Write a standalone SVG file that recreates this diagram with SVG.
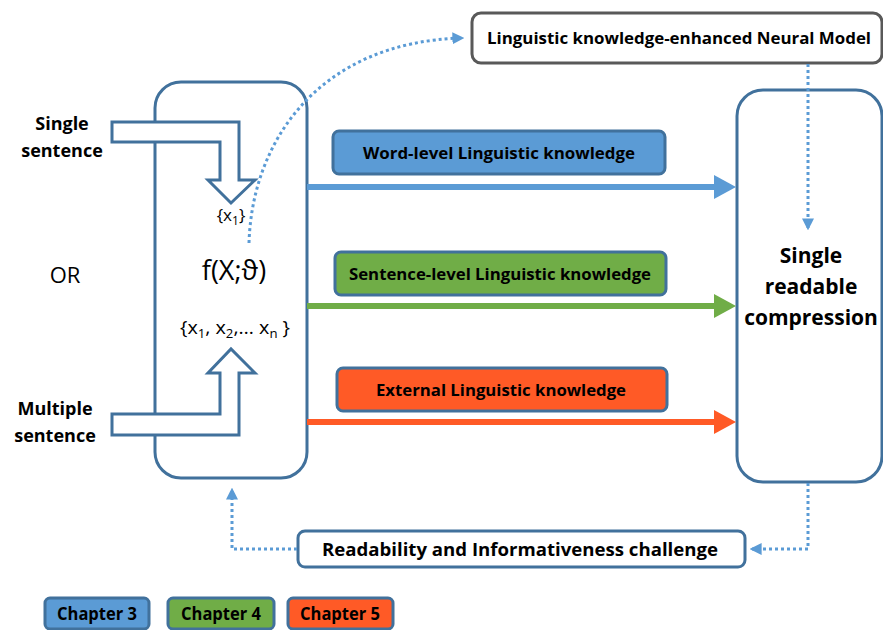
<svg xmlns="http://www.w3.org/2000/svg" width="883" height="630" viewBox="0 0 883 630">
  <style>
    .frame { fill: #ffffff; stroke: #41719C; stroke-width: 3; }
    .gray { fill: #ffffff; stroke: #595959; stroke-width: 3; }
    .hollow { fill: #ffffff; stroke: #41719C; stroke-width: 3; stroke-linejoin: miter; }
    .dots { fill: none; stroke: #5B9BD5; stroke-width: 3; stroke-dasharray: 3 3; }
    .b { font-family: "Open Sans", "Liberation Sans", sans-serif; font-weight: bold; fill: #000000; }
    .r { font-family: "Open Sans", "Liberation Sans", sans-serif; fill: #000000; }
    .blue { fill: #5B9BD5; }
    .green { fill: #70AD47; }
    .orange { fill: #FF5A26; }
  </style>
  <defs>
    <marker id="dotHead" viewBox="0 0 10 10" refX="8" refY="5" markerWidth="4" markerHeight="4" orient="auto" markerUnits="strokeWidth">
      <path d="M0,0 L10,5 L0,10 Z" fill="#5B9BD5"/>
    </marker>
  </defs>

  <!-- input sentences -->
  <g id="single-sentence">
    <text class="b" font-size="18" text-anchor="middle" x="62" y="130">Single</text>
    <text class="b" font-size="18" text-anchor="middle" x="62" y="157">sentence</text>
  </g>
  <g id="or-label">
    <text class="r" font-size="22" text-anchor="middle" x="65" y="283">OR</text>
  </g>
  <g id="multiple-sentence">
    <text class="b" font-size="18" text-anchor="middle" x="55" y="415">Multiple</text>
    <text class="b" font-size="18" text-anchor="middle" x="55" y="442">sentence</text>
  </g>

  <!-- model box -->
  <g id="model">
    <rect class="frame" x="155" y="82" width="152" height="396" rx="26"/>
    <text class="r" font-size="17" text-anchor="middle" x="231" y="221">{x<tspan font-size="12" dy="4">1</tspan><tspan dy="-4">}</tspan></text>
    <text class="r" font-size="27" text-anchor="middle" x="234" y="280">f(X;ϑ)</text>
    <text class="r" font-size="18" text-anchor="middle" x="235" y="334" textLength="110" lengthAdjust="spacingAndGlyphs">{x<tspan font-size="12" dy="4">1</tspan><tspan dy="-4">, x</tspan><tspan font-size="12" dy="4">2</tspan><tspan dy="-4">,… x</tspan><tspan font-size="12" dy="4">n</tspan><tspan dy="-4"> }</tspan></text>
  </g>

  <!-- hollow input arrows -->
  <g id="single-input-arrow">
    <polygon class="hollow" points="112,122 239,122 239,180 255,180 231,203 208,180 220,180 220,142 112,142"/>
  </g>
  <g id="multiple-input-arrow">
    <polygon class="hollow" points="112,414 220,414 220,373 208,373 231,349 255,373 239,373 239,435 112,435"/>
  </g>

  <!-- output box -->
  <g id="compression">
    <rect class="frame" x="737" y="90" width="145" height="392" rx="26"/>
    <text class="b" font-size="21" text-anchor="middle" x="811" y="263">Single</text>
    <text class="b" font-size="21" text-anchor="middle" x="811" y="294">readable</text>
    <text class="b" font-size="21" text-anchor="middle" x="811" y="325">compression</text>
  </g>

  <!-- top model box -->
  <g id="neural-model">
    <rect class="gray" x="472" y="13" width="410" height="50" rx="9"/>
    <text class="b" font-size="16" text-anchor="middle" x="679" y="44" textLength="384" lengthAdjust="spacingAndGlyphs">Linguistic knowledge-enhanced Neural Model</text>
  </g>

  <!-- knowledge labels -->
  <g id="word-level">
    <rect class="blue" x="333" y="131" width="332" height="43" rx="6" stroke="#41719C" stroke-width="3"/>
    <text class="b" font-size="16" text-anchor="middle" x="499" y="159" textLength="272" lengthAdjust="spacingAndGlyphs">Word-level Linguistic knowledge</text>
  </g>
  <g id="sentence-level">
    <rect class="green" x="335" y="252" width="331" height="43" rx="6" stroke="#41719C" stroke-width="3"/>
    <text class="b" font-size="16" text-anchor="middle" x="500" y="280" textLength="302" lengthAdjust="spacingAndGlyphs">Sentence-level Linguistic knowledge</text>
  </g>
  <g id="external">
    <rect class="orange" x="337" y="368" width="330" height="43" rx="6" stroke="#41719C" stroke-width="3"/>
    <text class="b" font-size="16" text-anchor="middle" x="501" y="396" textLength="250" lengthAdjust="spacingAndGlyphs">External Linguistic knowledge</text>
  </g>

  <!-- feedback box -->
  <g id="challenge">
    <rect class="frame" x="298" y="531" width="447" height="36" rx="7"/>
    <text class="b" font-size="17" text-anchor="middle" x="520" y="556" textLength="396" lengthAdjust="spacingAndGlyphs">Readability and Informativeness challenge</text>
  </g>

  <!-- legend -->
  <g id="legend-chapter3">
    <rect class="blue" x="45" y="598" width="104" height="31" rx="5" stroke="#41719C" stroke-width="3"/>
    <text class="b" font-size="17" text-anchor="middle" x="97" y="620" textLength="80" lengthAdjust="spacingAndGlyphs">Chapter 3</text>
  </g>
  <g id="legend-chapter4">
    <rect class="green" x="168" y="598" width="106" height="31" rx="5" stroke="#41719C" stroke-width="3"/>
    <text class="b" font-size="17" text-anchor="middle" x="221" y="620" textLength="80" lengthAdjust="spacingAndGlyphs">Chapter 4</text>
  </g>
  <g id="legend-chapter5">
    <rect class="orange" x="288" y="598" width="105" height="31" rx="5" stroke="#41719C" stroke-width="3"/>
    <text class="b" font-size="17" text-anchor="middle" x="340" y="620" textLength="80" lengthAdjust="spacingAndGlyphs">Chapter 5</text>
  </g>

  <!-- connectors -->
  <g id="connectors">
    <!-- knowledge flows -->
    <line x1="307" y1="187" x2="716" y2="187" stroke="#5B9BD5" stroke-width="6"/>
    <polygon points="714,175 736,187 714,199" fill="#5B9BD5"/>
    <line x1="307" y1="306" x2="716" y2="306" stroke="#70AD47" stroke-width="6"/>
    <polygon points="714,294 736,306 714,318" fill="#70AD47"/>
    <line x1="307" y1="422" x2="716" y2="422" stroke="#FF5A26" stroke-width="6"/>
    <polygon points="714,410 736,422 714,434" fill="#FF5A26"/>

    <!-- dotted links -->
    <path class="dots" d="M249,243 C252,140 320,42 462,38" marker-end="url(#dotHead)"/>
    <path class="dots" d="M808,64 L808,228" marker-end="url(#dotHead)"/>
    <path class="dots" d="M808,483 L808,549 L752,549" marker-end="url(#dotHead)"/>
    <path class="dots" d="M297,549 L232,549 L232,490" marker-end="url(#dotHead)"/>
  </g>
</svg>
